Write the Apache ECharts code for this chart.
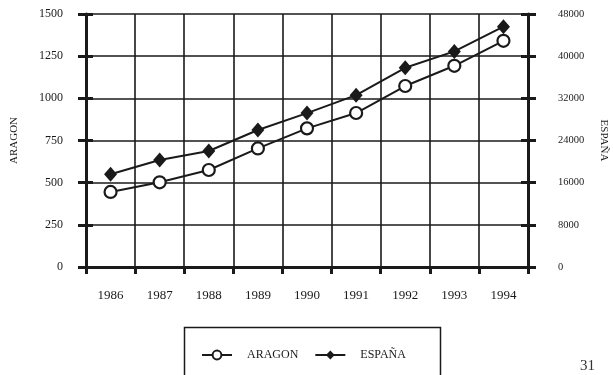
<!DOCTYPE html>
<html><head><meta charset="utf-8">
<script src="https://cdn.jsdelivr.net/npm/echarts@6/dist/echarts.min.js"></script>
<style>html,body{margin:0;padding:0;background:#fff}#c{width:613px;height:375px}</style>
</head><body><div id="c"></div>
<script>
const years = ['1986','1987','1988','1989','1990','1991','1992','1993','1994'];
const aragon = [445, 502, 575, 703, 822, 913, 1073, 1193, 1341];
const espana = [17600, 20300, 22000, 26000, 29200, 32600, 37800, 40900, 45600];
const leftTicks = {min:0, max:1500, interval:250};
const rightTicks = {min:0, max:48000, interval:8000};

const ink = '#1a1a1a';
const serif = '"Liberation Serif", "DejaVu Serif", serif';
const plain = v => String(v);
const chart = echarts.init(document.getElementById('c'), null, {renderer:'canvas'});
chart.setOption({
  animation:false,
  backgroundColor:'#fff',
  textStyle:{fontFamily:serif, color:ink},
  grid:{left:86, right:85, top:14, bottom:108, containLabel:false, outerBoundsMode:'none'},
  xAxis:{
    type:'category', data:years, boundaryGap:true,
    axisLine:{lineStyle:{color:ink, width:3}},
    axisTick:{show:true, alignWithLabel:false, length:7, lineStyle:{color:ink, width:3}},
    axisLabel:{color:ink, fontFamily:serif, fontSize:13, margin:22},
    splitLine:{show:true, lineStyle:{color:ink, width:1.6}}
  },
  yAxis:[
    {type:'value', position:'left', min:leftTicks.min, max:leftTicks.max, interval:leftTicks.interval,
     name:'ARAGON', nameLocation:'middle', nameGap:66, nameTextStyle:{fontFamily:serif, fontSize:11, color:ink},
     axisLine:{show:true, lineStyle:{color:ink, width:3}},
     axisTick:{show:true, length:8, lineStyle:{color:ink, width:3}},
     axisLabel:{color:ink, fontFamily:serif, fontSize:12, margin:23, formatter:plain},
     splitLine:{show:true, lineStyle:{color:ink, width:1.6}}},
    {type:'value', position:'right', min:rightTicks.min, max:rightTicks.max, interval:rightTicks.interval,
     name:'ESPAÑA', nameLocation:'middle', nameGap:70, nameRotate:-90,
     nameTextStyle:{fontFamily:serif, fontSize:11, color:ink},
     axisLine:{show:true, lineStyle:{color:ink, width:3}},
     axisTick:{show:true, length:8, lineStyle:{color:ink, width:3}},
     axisLabel:{color:ink, fontFamily:serif, fontSize:10.5, margin:30, formatter:plain},
     splitLine:{show:false}},
    {type:'value', position:'left', min:leftTicks.min, max:leftTicks.max, interval:leftTicks.interval,
     axisLine:{show:false}, axisLabel:{show:false}, splitLine:{show:false},
     axisTick:{show:true, inside:true, length:7, lineStyle:{color:ink, width:3}}},
    {type:'value', position:'right', min:rightTicks.min, max:rightTicks.max, interval:rightTicks.interval,
     axisLine:{show:false}, axisLabel:{show:false}, splitLine:{show:false},
     axisTick:{show:true, inside:true, length:7, lineStyle:{color:ink, width:3}}}
  ],
  legend:{
    left:196, top:344, itemGap:16, itemWidth:30, itemHeight:11,
    textStyle:{fontFamily:serif, fontSize:12, color:ink, padding:[0,0,0,10]},
    data:['ARAGON','ESPAÑA']
  },
  graphic:[
    {type:'rect', left:182, top:325, shape:{width:256, height:60},
     style:{fill:null, stroke:ink, lineWidth:1.5}},
    {type:'text', left:580, top:359, style:{text:'31', font:'15px "Liberation Serif", serif', fill:'#333'}}
  ],
  series:[
    {name:'ARAGON', type:'line', yAxisIndex:0, data:aragon,
     symbol:'circle', symbolSize:12, showAllSymbol:true,
     lineStyle:{color:ink, width:2},
     itemStyle:{color:'#fff', borderColor:ink, borderWidth:2.2}},
    {name:'ESPAÑA', type:'line', yAxisIndex:1, data:espana,
     symbol:'diamond', symbolSize:[13,15],
     lineStyle:{color:ink, width:2},
     itemStyle:{color:ink, borderColor:ink, borderWidth:0}}
  ]
});
</script></body></html>
